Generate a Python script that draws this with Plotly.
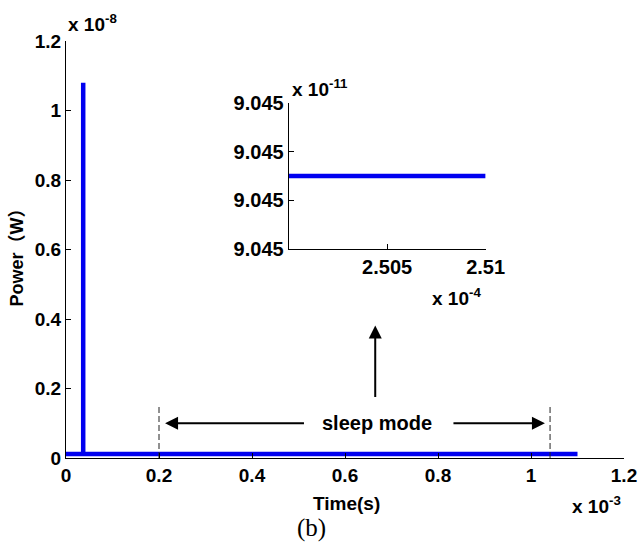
import plotly.graph_objects as go

# ---- data (main plot: time in 1e-3 s, power in 1e-8 W) ----
main_time = [0.0, 0.037, 0.037, 0.037, 1.1]
main_power = [0.0115, 0.0115, 1.08, 0.0115, 0.0115]

main_xticks = [0, 0.2, 0.4, 0.6, 0.8, 1.0, 1.2]
main_xticklabels = ["0", "0.2", "0.4", "0.6", "0.8", "1", "1.2"]
main_yticks = [0, 0.2, 0.4, 0.6, 0.8, 1.0, 1.2]
main_yticklabels = ["0", "0.2", "0.4", "0.6", "0.8", "1", "1.2"]

# sleep-mode markers (dashed verticals)
sleep_start_x = [0.2, 0.2]
sleep_start_y = [0.0, 0.153]
sleep_end_x = [1.041, 1.041]
sleep_end_y = [0.0, 0.153]

# arrows: (tail_x, tail_y, head_x, head_y)
arrow_left = [0.515, 0.1, 0.213, 0.1]
arrow_right = [0.83, 0.1, 1.03, 0.1]
arrow_up = [0.665, 0.171, 0.665, 0.381]
sleep_label_pos = [0.668, 0.1]

# ---- inset data (time in 1e-4 s, power in 1e-11 W) ----
inset_time = [2.5, 2.51]
inset_power = [9.045015, 9.045015]
inset_xticks = [2.505, 2.51]
inset_xticklabels = ["2.505", "2.51"]
inset_yticks = [9.04500, 9.04501, 9.04502, 9.04503]
inset_yticklabels = ["9.045", "9.045", "9.045", "9.045"]

FONT = "Liberation Sans, Arial, Noto Sans CJK SC, sans-serif"
BLUE = "#0000F0"

fig = go.Figure()

fig.add_trace(go.Scatter(x=main_time, y=main_power, mode="lines",
                         line=dict(color=BLUE, width=4.5), xaxis="x", yaxis="y",
                         showlegend=False, hoverinfo="skip"))
for xs, ys in [(sleep_start_x, sleep_start_y), (sleep_end_x, sleep_end_y)]:
    fig.add_trace(go.Scatter(x=xs, y=ys, mode="lines",
                             line=dict(color="#222222", width=1, dash="6px,3px"),
                             xaxis="x", yaxis="y", showlegend=False, hoverinfo="skip"))

fig.add_trace(go.Scatter(x=inset_time, y=inset_power, mode="lines",
                         line=dict(color=BLUE, width=4.5), xaxis="x2", yaxis="y2",
                         showlegend=False, hoverinfo="skip"))

main_tickfont = dict(family=FONT, size=19, color="black", weight="bold")
inset_tickfont = dict(family=FONT, size=20, color="black", weight="bold")

axis_common = dict(showgrid=False, zeroline=False, showline=True, linecolor="black",
                   linewidth=1, ticks="inside", ticklen=5, tickcolor="black",
                   tickwidth=1, mirror=False, automargin=False)

fig.update_layout(
    width=639, height=544, autosize=False,
    margin=dict(l=66, r=15, t=41, b=86, pad=0),
    paper_bgcolor="white", plot_bgcolor="white",
    xaxis=dict(range=[0, 1.2], tickvals=main_xticks, ticktext=main_xticklabels,
               domain=[0, 1], anchor="y", tickfont=main_tickfont, **axis_common),
    yaxis=dict(range=[0, 1.2], tickvals=main_yticks, ticktext=main_yticklabels,
               domain=[0, 1], anchor="x", tickfont=main_tickfont, **axis_common),
    xaxis2=dict(range=[2.5, 2.51], tickvals=inset_xticks, ticktext=inset_xticklabels,
                domain=[0.399, 0.752], anchor="y2", tickfont=inset_tickfont, **axis_common),
    yaxis2=dict(range=[9.04500, 9.04503], tickvals=inset_yticks, ticktext=inset_yticklabels,
                domain=[0.501, 0.851], anchor="x2", tickfont=inset_tickfont, **axis_common),
)

annots = []
for tx, ty, hx, hy in [arrow_left, arrow_right, arrow_up]:
    annots.append(dict(x=hx, y=hy, ax=tx, ay=ty, xref="x", yref="y", axref="x", ayref="y",
                       showarrow=True, arrowhead=2, arrowsize=1.3, arrowwidth=2,
                       arrowcolor="black", text=""))

annots.append(dict(x=sleep_label_pos[0], y=sleep_label_pos[1], xref="x", yref="y",
                   text="sleep mode", showarrow=False, bgcolor="white",
                   font=dict(family=FONT, size=20, color="black", weight="bold")))

lab_font = dict(family=FONT, size=19, color="black", weight="bold")
annots += [
    dict(x=0.0, y=1.043, xref="paper", yref="paper", xanchor="left", yanchor="middle",
         text="x 10<sup>-8</sup>", showarrow=False, font=lab_font),
    dict(x=0.998, y=-0.113, xref="paper", yref="paper", xanchor="right", yanchor="middle",
         text="x 10<sup>-3</sup>", showarrow=False, font=lab_font),
    dict(x=0.402, y=0.887, xref="paper", yref="paper", xanchor="left", yanchor="middle",
         text="x 10<sup>-11</sup>", showarrow=False, font=lab_font),
    dict(x=0.747, y=0.386, xref="paper", yref="paper", xanchor="right", yanchor="middle",
         text="x 10<sup>-4</sup>", showarrow=False, font=lab_font),
    dict(x=-0.0885, y=0.492, xref="paper", yref="paper", xanchor="center", yanchor="middle",
         text="Power（W）", textangle=-90, showarrow=False,
         font=dict(family=FONT, size=18, color="black", weight="bold")),
    dict(x=0.503, y=-0.108, xref="paper", yref="paper", xanchor="center", yanchor="middle",
         text="Time(s)", showarrow=False,
         font=dict(family=FONT, size=19, color="black", weight="bold")),
    dict(x=0.44, y=-0.168, xref="paper", yref="paper", xanchor="center", yanchor="middle",
         text="(b)", showarrow=False,
         font=dict(family="Liberation Serif, Times New Roman, serif", size=25, color="black")),
]
fig.update_layout(annotations=annots)

fig.write_html("out.html",
               config={"displayModeBar": False},
               post_script="document.body.style.margin='0px';"
                           "document.body.style.overflow='hidden';")
